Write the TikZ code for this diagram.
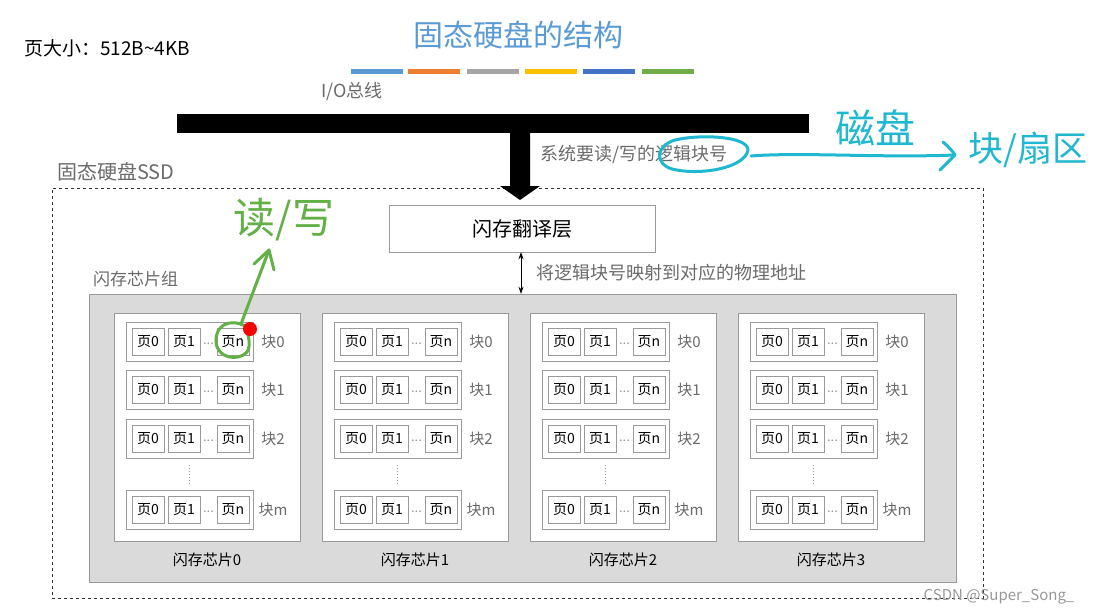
\documentclass[tikz,border=0pt]{standalone}
\usepackage{fontspec}
\setmainfont{Noto Sans CJK SC}
\usetikzlibrary{arrows.meta,calc,decorations.pathmorphing}
\definecolor{titleblue}{HTML}{5B9BD5}
\definecolor{barA}{HTML}{5B9BD5}
\definecolor{barB}{HTML}{ED7D31}
\definecolor{barC}{HTML}{A5A5A5}
\definecolor{barD}{HTML}{FFC000}
\definecolor{barE}{HTML}{4472C4}
\definecolor{barF}{HTML}{70AD47}
\definecolor{txtgray}{HTML}{6B6B6B}
\definecolor{boxgray}{HTML}{9A9A9A}
\definecolor{arrfill}{HTML}{DADADA}
\definecolor{penblue}{HTML}{1FB8D0}
\definecolor{pengreen}{HTML}{62B046}
\tikzset{
  graytext/.style={text=txtgray, inner sep=0pt},
  pagebox/.style={draw=boxgray, fill=white, minimum width=32pt, minimum height=27pt, inner sep=0pt, font=\fontsize{14}{14}\selectfont},
  blockbox/.style={draw=boxgray, fill=white, minimum width=127pt, minimum height=39pt, inner sep=0pt},
  chipbox/.style={draw=boxgray, fill=white, minimum width=186pt, minimum height=228pt, inner sep=0pt},
  bar/.style={minimum width=52pt, minimum height=5pt, inner sep=0pt},
  pen/.style={line width=3pt, line cap=round, line join=round},
}
\begin{document}
\begin{tikzpicture}[x=1pt,y=-1pt]
\fill[white] (0,0) rectangle (1094,614);
\useasboundingbox (0,0) rectangle (1094,614);

% top-left note
\node[anchor=west, inner sep=0pt, font=\fontsize{19}{19}\selectfont] (pagesize) at (24,48) {页大小：512B\textasciitilde4KB};

% title
\node[text=titleblue, inner sep=0pt, font=\fontsize{30}{30}\selectfont] (title) at (518,35) {固态硬盘的结构};
\node[bar, fill=barA] (b1) at (377,71) {};
\node[bar, fill=barB] (b2) at (434,71) {};
\node[bar, fill=barC] (b3) at (493,71) {};
\node[bar, fill=barD] (b4) at (551,71) {};
\node[bar, fill=barE] (b5) at (609,71) {};
\node[bar, fill=barF] (b6) at (668,71) {};

% I/O bus
\node[graytext, font=\fontsize{18}{18}\selectfont] (iolabel) at (352,92) {I/O总线};
\node[fill=black, minimum width=632pt, minimum height=19pt, inner sep=0pt] (bus) at (493,123.5) {};

% SSD dashed box
\node[graytext, anchor=west, font=\fontsize{20}{20}\selectfont] (ssdlabel) at (57,172) {固态硬盘SSD};
\node[draw=black!80, dashed, minimum width=931pt, minimum height=410pt, inner sep=0pt] (ssd) at (517.5,393) {};

% FTL
\node[draw=boxgray, fill=white, minimum width=266pt, minimum height=47pt, inner sep=0pt, font=\fontsize{20}{20}\selectfont] (ftl) at (522,228.5) {闪存翻译层};

% big arrow from bus to FTL
\fill[black] (bus.south -| 510,0) -- (510,186) -- (500,186) -- (520,200) -- (540,186) -- (530,186) -- (bus.south -| 530,0) -- cycle;
\node[graytext, anchor=west, font=\fontsize{18}{18}\selectfont] (req) at (540,155) {系统要读/写的逻辑块号};

% flash array
\node[graytext, anchor=west, font=\fontsize{17}{17}\selectfont] (arrlabel) at (93,279) {闪存芯片组};
\node[draw=boxgray, fill=arrfill, minimum width=867pt, minimum height=288pt, inner sep=0pt] (array) at (522.5,438) {};

% mapping arrow
\draw[{Stealth[length=7pt,width=5pt]}-{Stealth[length=7pt,width=5pt]}, line width=0.8pt] (ftl.south -| 521,0) -- (array.north -| 521,0);
\node[graytext, anchor=west, font=\fontsize{18}{18}\selectfont] (maplabel) at (536,273) {将逻辑块号映射到对应的物理地址};

% chips
\foreach \c in {0,1,2,3}{
  \pgfmathsetmacro{\off}{\c*208}
  \node[chipbox] (chip\c) at (207+\off,427) {};
  \node[inner sep=0pt, font=\fontsize{15}{15}\selectfont] (chiplabel\c) at (207+\off,560) {闪存芯片\c};
  \foreach \b/\y/\lab in {0/341.5/0, 1/390/1, 2/438.5/2, m/510/m}{
    \node[blockbox] (blk\c\b) at (189.5+\off,\y) {};
    \node[pagebox] (pgA\c\b) at (148+\off,\y) {页0};
    \node[pagebox] (pgB\c\b) at (184+\off,\y) {页1};
    \node[pagebox] (pgN\c\b) at (233+\off,\y) {页n};
    \node[text=boxgray, inner sep=0pt, font=\fontsize{13}{13}\selectfont] (dots\c\b) at (208.5+\off,\y+2) {...};
    \node[graytext, font=\fontsize{15}{15}\selectfont] (blab\c\b) at (273+\off,\y) {块\lab};
  }
  \draw[boxgray, line width=1pt, dash pattern=on 1.2pt off 1.8pt] (blk\c2.south) ++(0,7) coordinate (vd\c) -- ($(blk\c m.north)+(0,-6)$);
}

% cyan annotations
\draw[penblue, pen] (748,150) .. controls (748,136) and (700,134) .. (675,140) .. controls (655,146) and (655,164) .. (672,169) .. controls (700,176) and (745,168) .. (748,150);
\coordinate (cyanend) at (955,155);
\draw[penblue, pen] (751,156) .. controls (800,152) and (880,158) .. (cyanend);
\draw[penblue, pen] (943,142) .. controls (950,148) and (953,152) .. (cyanend) .. controls (950,160) and (944,166) .. (940,170);
\node[text=penblue, inner sep=0pt, font=\fontsize{40}{40}\selectfont] (disk) at (875,128) {磁盘};
\node[text=penblue, inner sep=0pt, font=\fontsize{35}{35}\selectfont] (sector) at (1028,150) {块/扇区};

% green annotations
\node[text=pengreen, inner sep=0pt, font=\fontsize{42}{42}\selectfont] (rw) at (284,220) {读/写};
\draw[pengreen, pen] (245,326) .. controls (230,318) and (215,325) .. (216,342) .. controls (217,358) and (238,362) .. (247,352) .. controls (251,346) and (249,336) .. (245,326);
\coordinate (gtip) at (269,250);
\draw[pengreen, pen] (241,324) -- (gtip);
\draw[pengreen, pen] (254,264) -- (gtip) -- (274,270);
\fill[red] (250,329) circle (7pt);

% watermark
\node[text=black!40, inner sep=0pt, font=\fontsize{15}{15}\selectfont] (csdn) at (999,597) {CSDN @Super\_Song\_};
\end{tikzpicture}
\end{document}
